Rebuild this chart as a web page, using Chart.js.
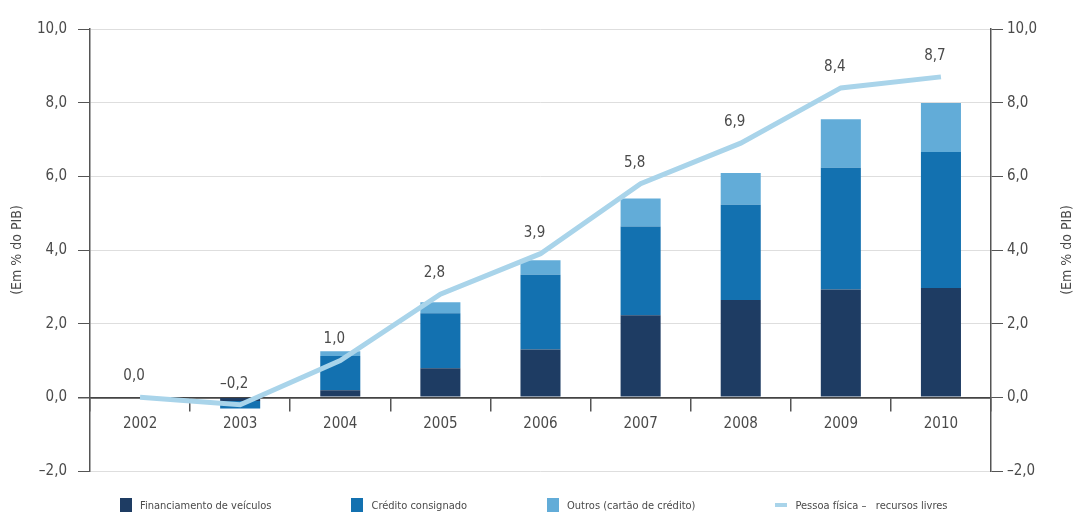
<!DOCTYPE html>
<html><head><meta charset="utf-8">
<script src="https://cdn.jsdelivr.net/npm/chart.js@4.4.1/dist/chart.umd.min.js"></script>
<style>
html,body{margin:0;padding:0;background:#fff}
#wrap{position:relative;width:1077px;height:514px}
#legend{position:absolute;left:120px;top:498px;display:flex;gap:80px;align-items:center;
  font-family:'Liberation Sans Narrow','DejaVu Sans Condensed',sans-serif;font-size:11px;color:#4a4a4a;white-space:pre}
#legend .it{display:flex;align-items:center;gap:8px}
#legend .sw{display:inline-block;width:12px;height:14px}
#legend .ln{display:inline-block;width:12px;height:4px}
</style>
</head><body>
<div id="wrap">
<canvas id="c" width="1077" height="514"></canvas>
<div id="legend"></div>
</div>
<script>
const categories = ['2002','2003','2004','2005','2006','2007','2008','2009','2010'];
const veiculos   = [null, -0.1, 0.19, 0.79, 1.30, 2.23, 2.64, 2.93, 2.97];
const consignado = [null, -0.2, 0.93, 1.49, 2.03, 2.41, 2.59, 3.30, 3.69];
const outros     = [null, null, 0.13, 0.30, 0.39, 0.76, 0.86, 1.32, 1.33];
const pessoaFisica = [0.0, -0.2, 1.0, 2.8, 3.9, 5.8, 6.9, 8.4, 8.7];
const yMin = -2, yMax = 10, yStep = 2;
const axisTitle = '(Em % do PIB)';
const seriesNames = ['Financiamento de veículos','Crédito consignado','Outros (cartão de crédito)','Pessoa física –   recursos livres'];

const FONT = "'Liberation Sans Narrow','DejaVu Sans Condensed','Roboto Condensed',sans-serif";
const TXT = '#4a4a4a';
const fmt = v => v.toFixed(1).replace('.', ',').replace('-', '–');

const lineLabels = {
  id: 'lineLabels',
  afterDatasetsDraw(chart) {
    const ctx = chart.ctx;
    const meta = chart.getDatasetMeta(3);
    ctx.save();
    ctx.font = '15px ' + FONT;
    ctx.fillStyle = TXT;
    ctx.textAlign = 'center';
    ctx.textBaseline = 'middle';
    meta.data.forEach((pt, i) => {
      ctx.fillText(fmt(pessoaFisica[i]), pt.x - 6, pt.y - 21);
    });
    ctx.restore();
  }
};
const rightTitle = {
  id: 'rightTitle',
  afterDraw(chart) {
    const ctx = chart.ctx;
    const s = chart.scales.y2;
    ctx.save();
    ctx.font = '14px ' + FONT;
    ctx.fillStyle = TXT;
    ctx.textAlign = 'center';
    ctx.textBaseline = 'middle';
    ctx.translate(1067, (s.top + s.bottom) / 2);
    ctx.rotate(-Math.PI / 2);
    ctx.fillText(axisTitle, 0, 0);
    ctx.restore();
  }
};

const chart = new Chart(document.getElementById('c'), {
  data: {
    labels: categories,
    datasets: [
      { type: 'bar', label: seriesNames[0], data: veiculos, backgroundColor: '#1e3c63', stack: 's', order: 1 },
      { type: 'bar', label: seriesNames[1], data: consignado, backgroundColor: '#1371b0', stack: 's', order: 1 },
      { type: 'bar', label: seriesNames[2], data: outros, backgroundColor: '#62acd8', stack: 's', order: 1 },
      { type: 'line', label: seriesNames[3], data: pessoaFisica, borderColor: '#a9d4ea', backgroundColor: '#a9d4ea',
        borderWidth: 5, pointRadius: 0, tension: 0, stack: 'line', order: 0 }
    ]
  },
  options: {
    responsive: false,
    animation: false,
    barPercentage: 0.4,
    categoryPercentage: 1,
    layout: { padding: { top: 29, bottom: 43, left: 0, right: 0 } },
    plugins: {
      tooltip: { enabled: false },
      legend: { display: false }
    },
    scales: {
      x: {
        position: { y: 0 },
        offset: true,
        grid: { offset: true, drawOnChartArea: false, drawTicks: true, tickLength: 13, tickColor: '#555', lineWidth: 1.5 },
        border: { color: '#444', width: 1.5 },
        ticks: { color: TXT, font: { family: FONT, size: 15 }, padding: 5 }
      },
      y: {
        position: 'left',
        stacked: true,
        min: yMin, max: yMax,
        ticks: { stepSize: yStep, callback: v => fmt(v), color: TXT, font: { family: FONT, size: 15 }, padding: 11 },
        grid: { color: c => c.tick && c.tick.value === 0 ? '#444' : '#dedede', tickColor: '#555', tickLength: 12, lineWidth: c => c.tick && c.tick.value === 0 ? 1.5 : 1 },
        border: { color: '#555', width: 1.5 },
        title: { display: true, text: axisTitle, color: TXT, font: { family: FONT, size: 14 }, padding: { top: 9, bottom: 0 } },
        afterFit: s => { s.width = 90; }
      },
      y2: {
        position: 'right',
        min: yMin, max: yMax,
        ticks: { stepSize: yStep, callback: v => fmt(v), color: TXT, font: { family: FONT, size: 15 }, padding: 4 },
        grid: { drawOnChartArea: false, tickColor: '#555', tickLength: 12 },
        border: { color: '#555', width: 1.5 },
        afterFit: s => { s.width = 86; }
      }
    }
  },
  plugins: [lineLabels, rightTitle]
});

// HTML legend built from the chart's datasets
const leg = document.getElementById('legend');
chart.data.datasets.forEach(ds => {
  const it = document.createElement('span');
  it.className = 'it';
  const sw = document.createElement('span');
  sw.className = ds.type === 'line' ? 'ln' : 'sw';
  sw.style.background = ds.type === 'line' ? ds.borderColor : ds.backgroundColor;
  const tx = document.createElement('span');
  tx.textContent = ds.label;
  it.appendChild(sw); it.appendChild(tx);
  leg.appendChild(it);
});
</script>
</body></html>
